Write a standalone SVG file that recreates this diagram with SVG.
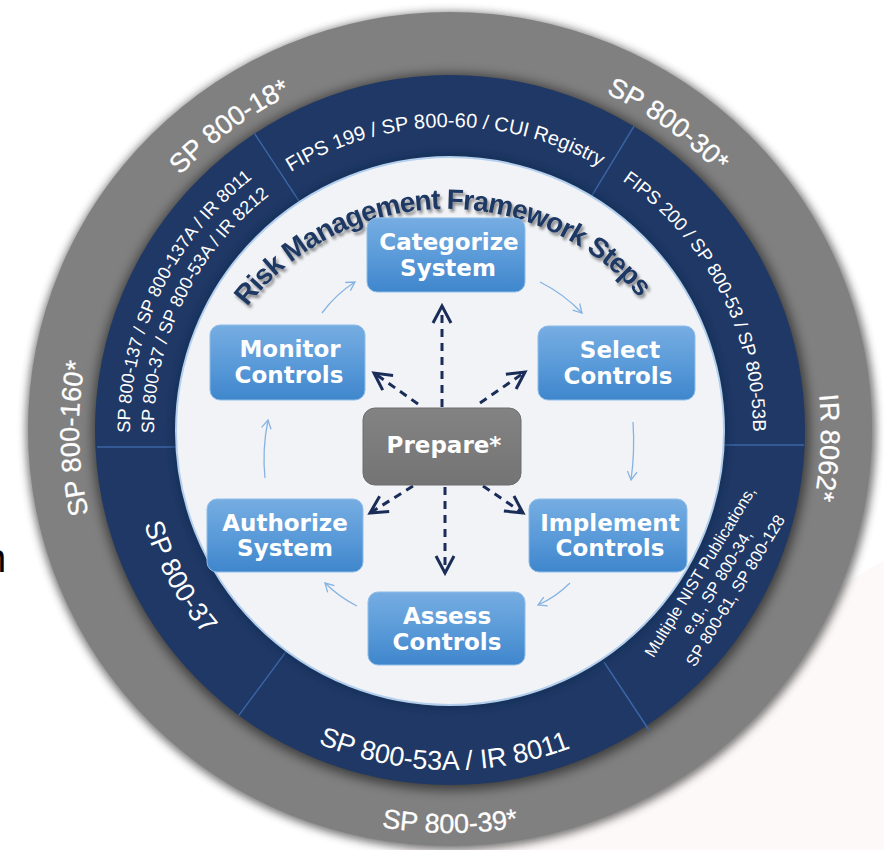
<svg xmlns="http://www.w3.org/2000/svg" width="884" height="850" viewBox="0 0 884 850">
  <defs>
    <style>
      .ringG { font-family: "Liberation Sans", Arial, sans-serif; font-size: 27px; fill: #ffffff; stroke: #ffffff; stroke-width: 0.3px; }
      .ringN { font-family: "Liberation Sans", Arial, sans-serif; fill: #ffffff; }
      .title { font-family: "Liberation Sans", Arial, sans-serif; font-weight: bold; font-size: 28px; fill: #1f3864; letter-spacing: -1px; }
      .box { fill: url(#boxGrad); stroke: #8fbde9; stroke-width: 1; }
      .prep { fill: url(#prepGrad); stroke: #6e6e6e; stroke-width: 1; }
      .lbl { font-family: "DejaVu Sans", Verdana, sans-serif; font-weight: bold; font-size: 23px; fill: #ffffff; text-anchor: middle; }
      .dash { fill: none; stroke: #1a2d59; stroke-width: 3; stroke-dasharray: 8 6; marker-end: url(#chev); }
      .cyc { fill: none; stroke: #86b4e2; stroke-width: 1.3; marker-end: url(#tip); }
      .divider { stroke: #3d66a6; stroke-width: 1.4; }
    </style>
    <linearGradient id="boxGrad" x1="0" y1="0" x2="0" y2="1">
      <stop offset="0" stop-color="#76ade2"/>
      <stop offset="0.5" stop-color="#5b9bd9"/>
      <stop offset="1" stop-color="#3f86cc"/>
    </linearGradient>
    <linearGradient id="prepGrad" x1="0" y1="0" x2="0" y2="1">
      <stop offset="0" stop-color="#838383"/>
      <stop offset="1" stop-color="#747474"/>
    </linearGradient>
    <filter id="soft4" x="-10%" y="-10%" width="120%" height="120%">
      <feGaussianBlur stdDeviation="4"/>
    </filter>
    <filter id="soft6" x="-10%" y="-10%" width="120%" height="120%">
      <feGaussianBlur stdDeviation="6"/>
    </filter>
    <filter id="titleShadow" x="-10%" y="-30%" width="120%" height="160%">
      <feGaussianBlur in="SourceAlpha" stdDeviation="1.6"/>
      <feOffset dx="2" dy="3" result="off"/>
      <feFlood flood-color="#000000" flood-opacity="0.45"/>
      <feComposite in2="off" operator="in"/>
      <feMerge>
        <feMergeNode/>
        <feMergeNode in="SourceGraphic"/>
      </feMerge>
    </filter>
    <marker id="chev" viewBox="-21 -12 24 24" markerWidth="24" markerHeight="24" refX="0" refY="0" orient="auto" markerUnits="userSpaceOnUse">
      <path d="M-17,-9 L0,0 L-17,9" fill="none" stroke="#1a2d59" stroke-width="3"/>
    </marker>
    <marker id="tip" viewBox="-11 -7 13 14" markerWidth="13" markerHeight="14" refX="0" refY="0" orient="auto" markerUnits="userSpaceOnUse">
      <path d="M-8.5,-4.8 L0,0 L-8.5,4.8" fill="none" stroke="#86b4e2" stroke-width="1.3"/>
    </marker>

    <!-- outer grey ring: clockwise arcs for upright-outward text, r = 371 -->
    <path id="gp1" d="M 90.0 340.25 A 371 371 0 0 1 475.88 59.91"/>
    <path id="gp2" d="M 420.89 60.14 A 371 371 0 0 1 809.18 337.11"/>
    <path id="gp3" d="M 744.99 205.18 A 371 371 0 0 1 722.65 681.6"/>
    <path id="gp4" d="M 171.28 674.86 A 371 371 0 0 1 160.46 198.04"/>
    <!-- bottom of grey ring, counter-clockwise so the text stays upright -->
    <path id="gp5" d="M 190.96 738.71 A 403 403 0 0 0 709.04 738.71"/>

    <!-- navy ring arcs -->
    <path id="np1" d="M 184.99 283.10 A 303 303 0 0 1 709.72 273.94"/>
    <path id="np2" d="M 463.22 127.29 A 303 303 0 0 1 705.55 592.80"/>
    <path id="np3" d="M 130.01 432.79 A 320 320 0 0 1 391.68 115.36"/>
    <path id="np4" d="M 154.02 433.10 A 296 296 0 0 1 395.55 139.05"/>
    <path id="np5" d="M 226.94 686.60 A 340 340 0 0 0 663.97 694.23"/>
    <path id="np6" d="M 136.43 366.20 A 320 320 0 0 0 332.72 727.73"/>

    <!-- heading arc, centre (447,462) -->
    <path id="tp" d="M 196.8 424.2 A 253 253 0 0 1 695.0 412.0"/>
  </defs>

  <!-- page -->
  <rect x="0" y="0" width="884" height="850" fill="#ffffff"/>
  <path d="M 884 560 L 884 850 L 400 850 Z" fill="#fdf9f8"/>
  <text x="-16" y="572" font-family="'Liberation Sans', Arial, sans-serif" font-size="40" fill="#000000">n</text>

  <!-- outer grey ring with its soft shadow -->
  <g id="ring-outer">
    <ellipse cx="451" cy="431" rx="425" ry="419" fill="#3c3c3c" opacity="0.7" filter="url(#soft4)"/>
    <ellipse cx="450" cy="429" rx="422" ry="417" fill="#808080"/>
  </g>

  <!-- navy ring, casting a shadow on the grey -->
  <g id="ring-navy">
    <circle cx="451" cy="432" r="358" fill="#000000" opacity="0.55" filter="url(#soft6)"/>
    <circle cx="450" cy="430" r="355" fill="#1f3865"/>
    <line class="divider" x1="254.6" y1="133.6" x2="299.2" y2="201.3"/>
    <line class="divider" x1="633.9" y1="126.3" x2="591.9" y2="195.6"/>
    <line class="divider" x1="722" y1="445" x2="804" y2="445"/>
    <line class="divider" x1="604" y1="662" x2="649" y2="730"/>
    <line class="divider" x1="287" y1="650.3" x2="238.8" y2="715.4"/>
    <line class="divider" x1="97" y1="447" x2="178" y2="447"/>
  </g>

  <!-- inner light disc -->
  <g id="disc">
    <circle cx="450" cy="431" r="276" fill="#10254a" opacity="0.6" filter="url(#soft4)"/>
    <circle cx="450" cy="431" r="274" fill="#f2f3f6" stroke="#b3cfee" stroke-width="2"/>
  </g>

  <!-- publication labels on the grey ring -->
  <g id="labels-outer" class="ringG">
    <text><textPath href="#gp1" startOffset="50%" text-anchor="middle">SP 800-18*</textPath></text>
    <text><textPath href="#gp2" startOffset="50%" text-anchor="middle">SP 800-30*</textPath></text>
    <text><textPath href="#gp3" startOffset="50%" text-anchor="middle">IR 8062*</textPath></text>
    <text><textPath href="#gp4" startOffset="50%" text-anchor="middle">SP 800-160*</textPath></text>
    <text><textPath href="#gp5" startOffset="50%" text-anchor="middle">SP 800-39*</textPath></text>
  </g>

  <!-- publication labels on the navy ring -->
  <g id="labels-navy" class="ringN">
    <text font-size="20"><textPath href="#np1" startOffset="50%" text-anchor="middle">FIPS 199 / SP 800-60 / CUI Registry</textPath></text>
    <text font-size="18.5"><textPath href="#np2" startOffset="50%" text-anchor="middle">FIPS 200 / SP 800-53 / SP 800-53B</textPath></text>
    <text font-size="18"><textPath href="#np3" startOffset="0">SP 800-137 / SP 800-137A / IR 8011</textPath></text>
    <text font-size="18"><textPath href="#np4" startOffset="0">SP 800-37 / SP 800-53A / IR 8212</textPath></text>
    <text font-size="27"><textPath href="#np5" startOffset="50%" text-anchor="middle">SP 800-53A / IR 8011</textPath></text>
    <text font-size="27"><textPath href="#np6" startOffset="50%" text-anchor="middle">SP 800-37</textPath></text>
    <text font-size="16.5" text-anchor="middle" transform="translate(718,580) rotate(-58.5)">
      <tspan x="0" y="-14">Multiple NIST Publications,</tspan>
      <tspan x="0" y="6">e.g., SP 800-34,</tspan>
      <tspan x="0" y="26">SP 800-61, SP 800-128</tspan>
    </text>
  </g>

  <!-- heading -->
  <g id="heading" filter="url(#titleShadow)">
    <text class="title"><textPath href="#tp" startOffset="50%" text-anchor="middle">Risk Management Framework Steps</textPath></text>
  </g>

  <!-- connectors -->
  <g id="connectors">
    <!-- Prepare feeds every step -->
    <path class="dash" d="M 442 407 L 442 306"/>
    <path class="dash" d="M 445 487 L 445 573"/>
    <path class="dash" d="M 418 404 L 374 373"/>
    <path class="dash" d="M 480 403 L 525 372"/>
    <path class="dash" d="M 413 486 L 370 513"/>
    <path class="dash" d="M 483 486 L 523 513"/>
    <!-- step cycle -->
    <path class="cyc" d="M 540 282 Q 564 294 582 313"/>
    <path class="cyc" d="M 633 422 Q 635 452 631 480"/>
    <path class="cyc" d="M 570 583 Q 556 597 538 605"/>
    <path class="cyc" d="M 357 606 Q 339 597 325 583"/>
    <path class="cyc" d="M 265 478 Q 262 450 268 420"/>
    <path class="cyc" d="M 322 313 Q 336 294 355 282"/>
  </g>

  <!-- steps -->
  <g id="node-categorize">
    <rect class="box" x="367" y="218" width="158" height="74" rx="10"/>
    <text class="lbl" x="449" y="250">Categorize</text>
    <text class="lbl" x="448" y="276">System</text>
  </g>
  <g id="node-select">
    <rect class="box" x="538" y="326" width="157" height="74" rx="10"/>
    <text class="lbl" x="620" y="358">Select</text>
    <text class="lbl" x="618" y="384">Controls</text>
  </g>
  <g id="node-implement">
    <rect class="box" x="529" y="499" width="158" height="73" rx="10"/>
    <text class="lbl" x="610" y="531">Implement</text>
    <text class="lbl" x="610" y="556">Controls</text>
  </g>
  <g id="node-assess">
    <rect class="box" x="368" y="592" width="157" height="73" rx="10"/>
    <text class="lbl" x="447" y="624">Assess</text>
    <text class="lbl" x="447" y="650">Controls</text>
  </g>
  <g id="node-authorize">
    <rect class="box" x="207" y="499" width="156" height="73" rx="10"/>
    <text class="lbl" x="285" y="531">Authorize</text>
    <text class="lbl" x="285" y="556">System</text>
  </g>
  <g id="node-monitor">
    <rect class="box" x="210" y="325" width="155" height="75" rx="10"/>
    <text class="lbl" x="290" y="357">Monitor</text>
    <text class="lbl" x="289" y="383">Controls</text>
  </g>
  <g id="node-prepare">
    <rect class="prep" x="363" y="408" width="158" height="77" rx="12"/>
    <text class="lbl" x="444" y="453">Prepare*</text>
  </g>
</svg>
